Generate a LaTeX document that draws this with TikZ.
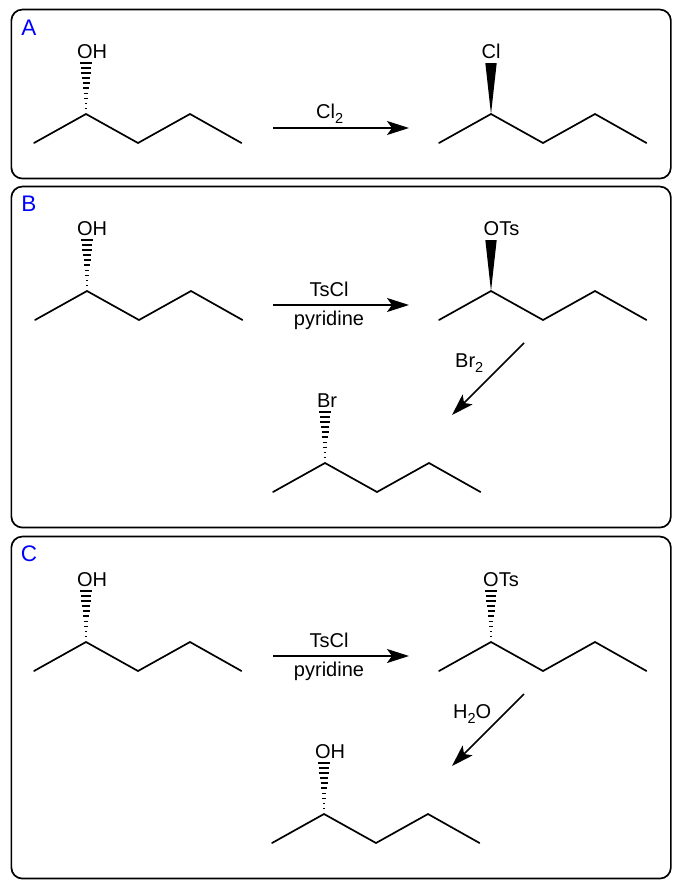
\documentclass[tikz,border=0pt]{standalone}
\usepackage{fontspec}
\setmainfont{Liberation Sans}
\usetikzlibrary{arrows.meta}
\newcommand{\lowtwo}{\raisebox{-5pt}{\fontsize{14.5}{16}\selectfont 2}}
\tikzset{
  panel/.style={draw=black,line width=1.7pt,rounded corners=11pt,fill=white},
  bond/.style={draw=black,line width=1.7pt,line join=miter,line cap=round},
  rxn/.style={draw=black,line width=1.7pt,-{Stealth[length=22pt,width=14pt,inset=5pt]}},
  atomlabel/.style={font=\fontsize{20}{22}\selectfont,inner sep=0pt,text=black},
  reagent/.style={font=\fontsize{20}{22}\selectfont,inner sep=0pt,text=black},
  panellabel/.style={font=\fontsize{22.5}{24}\selectfont,inner sep=0pt,text={rgb,255:red,0;green,0;blue,255}},
}
% #1 name, #2 x, #3 y of the stereocentre, #4 label text, #5 label x offset
\newcommand{\skeleton}[5]{%
  \coordinate (#1a) at (#2-52,#3+29);
  \coordinate (#1b) at (#2,#3);
  \coordinate (#1c) at (#2+52,#3+29);
  \coordinate (#1d) at (#2+104,#3);
  \coordinate (#1e) at (#2+155.5,#3+29);
  \draw[bond] (#1a) -- (#1b) -- (#1c) -- (#1d) -- (#1e);
  \node[atomlabel] (#1lab) at (#2+#5,#3-62.3) {#4};
}
\newcommand{\hashbond}[2]{%
  \foreach \k in {0,...,9}{
    \pgfmathsetmacro{\yy}{#2-5.5-\k*5.1}
    \pgfmathsetmacro{\hw}{0.6+\k*0.58}
    \pgfmathsetmacro{\lw}{1.0+\k*0.09}
    \draw[black,line width=\lw pt] (#1-\hw,\yy) -- (#1+\hw,\yy);
  }
}
\newcommand{\wedgebond}[2]{%
  \fill[black] (#1,#2) -- (#1-5.7,#2-51) -- (#1+5.7,#2-51) -- cycle;
}
\begin{document}
\begin{tikzpicture}[x=1pt,y=-1pt]
\useasboundingbox (0,0) rectangle (680,889);
\fill[white] (0,0) rectangle (680,889);
\node[panel,minimum width=659.5pt,minimum height=169pt,anchor=north west,inner sep=0pt] (panelA) at (10.5,8.7) {};
\node[panel,minimum width=659.5pt,minimum height=341pt,anchor=north west,inner sep=0pt] (panelB) at (10.5,185.7) {};
\node[panel,minimum width=659.5pt,minimum height=342pt,anchor=north west,inner sep=0pt] (panelC) at (10.5,535.7) {};
\node[panellabel] (labA) at (29,28) {A};
\node[panellabel] (labB) at (29,204) {B};
\node[panellabel] (labC) at (29,554) {C};

% Panel A
\skeleton{aone}{86}{114}{OH}{6}
\hashbond{86}{114}
\skeleton{atwo}{491}{114}{Cl}{0}
\wedgebond{491}{114}
\coordinate (ar1) at (273,128);
\coordinate (ar2) at (409,128);
\draw[rxn] (ar1) -- (ar2);
\node[reagent,anchor=base west] (acl) at (316,118) {Cl\lowtwo};

% Panel B
\skeleton{bone}{87}{291}{OH}{5}
\hashbond{87}{291}
\skeleton{btwo}{491}{291}{OTs}{10.5}
\wedgebond{491}{291}
\coordinate (br1) at (273,305);
\coordinate (br2) at (409,305);
\draw[rxn] (br1) -- (br2);
\node[reagent] (bts) at (329,289) {TsCl};
\node[reagent] (bpy) at (329,320) {pyridine};
\coordinate (bd1) at (524,343);
\coordinate (bd2) at (452,415);
\draw[rxn] (bd1) -- (bd2);
\node[reagent,anchor=base west] (bbr) at (455,367) {Br\lowtwo};
\skeleton{bthree}{325}{463}{Br}{2}
\hashbond{325}{463}

% Panel C
\skeleton{cone}{86}{642}{OH}{6}
\hashbond{86}{642}
\skeleton{ctwo}{491}{642}{OTs}{10}
\hashbond{491}{642}
\coordinate (cr1) at (273,656);
\coordinate (cr2) at (409,656);
\draw[rxn] (cr1) -- (cr2);
\node[reagent] (cts) at (329,640) {TsCl};
\node[reagent] (cpy) at (329,671) {pyridine};
\coordinate (cd1) at (524,694);
\coordinate (cd2) at (452,766);
\draw[rxn] (cd1) -- (cd2);
\node[reagent,anchor=base west] (cwa) at (453,718.5) {H\lowtwo O};
\skeleton{cthree}{324}{814}{OH}{6}
\hashbond{324}{814}
\end{tikzpicture}
\end{document}
